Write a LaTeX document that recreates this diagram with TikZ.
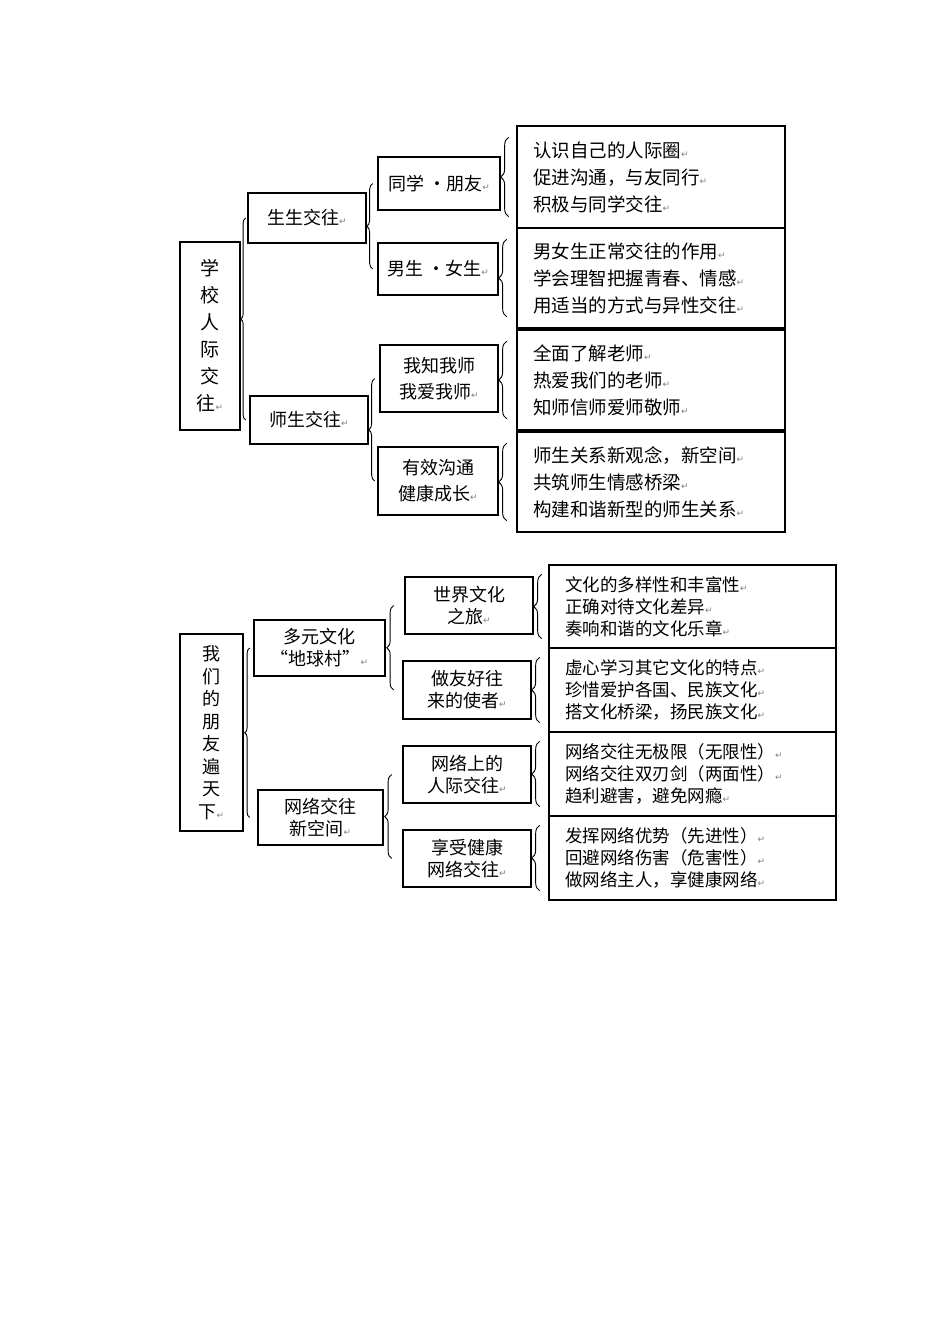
\documentclass[tikz,border=0pt]{standalone}
\usepackage{fontspec}
\setmainfont{Noto Sans CJK SC}
\newfontfamily\dejavu{DejaVu Sans}
\usetikzlibrary{calc,decorations.pathreplacing}
\newcommand\rr{{\dejavu\color{gray}\fontsize{9}{9}\selectfont ↵}}
\begin{document}
\begin{tikzpicture}[x=1pt,y=-1pt,
  bx/.style={draw,line width=1.3pt,inner sep=0pt,font=\fontsize{18}{24}\selectfont,align=center},
  lst/.style={bx,align=left,font=\fontsize{18.5}{27}\selectfont},
  lst2/.style={bx,align=left,font=\fontsize{17.5}{22}\selectfont},
  brc/.style={decorate,decoration={brace,amplitude=#1},line width=0.9pt}]
\useasboundingbox (0,0) rectangle (950,1344);
% top
\node[bx,minimum width=60pt,minimum height=188pt,font=\fontsize{19}{27}\selectfont] (root1) at (210,336) {学\\校\\人\\际\\交\\往\rr};
\node[bx,minimum width=118pt,minimum height=50pt] (a1) at (307,218) {生生交往\rr};
\node[bx,minimum width=118pt,minimum height=48pt] (a2) at (309,420) {师生交往\rr};
\node[bx,minimum width=122pt,minimum height=53pt] (b1) at (439,183.5) {同学 ·朋友\rr};
\node[bx,minimum width=120pt,minimum height=52pt] (b2) at (438,269) {男生 ·女生\rr};
\node[bx,minimum width=118pt,minimum height=67pt,font=\fontsize{18}{26}\selectfont] (b3) at (439,378.5) {我知我师\\我爱我师\rr};
\node[bx,minimum width=120pt,minimum height=68pt,font=\fontsize{18}{26}\selectfont] (b4) at (438,481) {有效沟通\\健康成长\rr};
\node[lst,minimum width=268pt,minimum height=102pt,text width=236pt] (r1) at (651,177) {认识自己的人际圈\rr\\促进沟通，与友同行\rr\\积极与同学交往\rr};
\node[lst,minimum width=268pt,minimum height=100pt,text width=236pt] (r2) at (651,278) {男女生正常交往的作用\rr\\学会理智把握青春、情感\rr\\用适当的方式与异性交往\rr};
\node[lst,minimum width=268pt,minimum height=100pt,text width=236pt] (r3) at (651,380) {全面了解老师\rr\\热爱我们的老师\rr\\知师信师爱师敬师\rr};
\node[lst,minimum width=268pt,minimum height=100pt,text width=236pt] (r4) at (651,482) {师生关系新观念，新空间\rr\\共筑师生情感桥梁\rr\\构建和谐新型的师生关系\rr};
\draw[brc=5pt] ($(a2.west -| root1.east)+(5,0)$) -- ($(a1.west -| root1.east)+(5,0)$);
\draw[brc=6pt] ($(b2.west -| a1.east)+(6,0)$) -- ($(b1.west -| a1.east)+(6,0)$);
\draw[brc=6pt] ($(b4.west -| a2.east)+(6,0)$) -- ($(b3.west -| a2.east)+(6,0)$);
\foreach \m/\r in {b1/r1,b2/r2,b3/r3,b4/r4}{
  \draw[brc=8pt] ($(\r.south -| \m.east)+(8,-12)$) -- ($(\r.north -| \m.east)+(8,12)$);}
% bottom
\node[bx,minimum width=63pt,minimum height=197pt,font=\fontsize{18}{22.5}\selectfont] (root2) at (211.5,732.5) {我\\们\\的\\朋\\友\\遍\\天\\下\rr};
\node[bx,minimum width=131pt,minimum height=56pt,font=\fontsize{18}{22}\selectfont] (c1) at (319.5,648) {多元文化\\“地球村”\rr};
\node[bx,minimum width=125pt,minimum height=55pt,font=\fontsize{18}{22}\selectfont] (c2) at (320.5,817.5) {网络交往\\新空间\rr};
\node[bx,minimum width=128pt,minimum height=57pt,font=\fontsize{18}{22}\selectfont] (d1) at (469,605.5) {世界文化\\之旅\rr};
\node[bx,minimum width=128pt,minimum height=58pt,font=\fontsize{18}{22}\selectfont] (d2) at (467,690) {做友好往\\来的使者\rr};
\node[bx,minimum width=128pt,minimum height=57pt,font=\fontsize{18}{22}\selectfont] (d3) at (467,774.5) {网络上的\\人际交往\rr};
\node[bx,minimum width=128pt,minimum height=57pt,font=\fontsize{18}{22}\selectfont] (d4) at (467,858.5) {享受健康\\网络交往\rr};
\node[lst2,minimum width=287pt,minimum height=83pt,text width=255pt] (s1) at (692.5,606.5) {文化的多样性和丰富性\rr\\正确对待文化差异\rr\\奏响和谐的文化乐章\rr};
\node[lst2,minimum width=287pt,minimum height=84pt,text width=255pt] (s2) at (692.5,690) {虚心学习其它文化的特点\rr\\珍惜爱护各国、民族文化\rr\\搭文化桥梁，扬民族文化\rr};
\node[lst2,minimum width=287pt,minimum height=84pt,text width=255pt] (s3) at (692.5,774) {网络交往无极限（无限性）\rr\\网络交往双刃剑（两面性）\rr\\趋利避害，避免网瘾\rr};
\node[lst2,minimum width=287pt,minimum height=84pt,text width=255pt] (s4) at (692.5,858) {发挥网络优势（先进性）\rr\\回避网络伤害（危害性）\rr\\做网络主人，享健康网络\rr};
\draw[brc=5pt] ($(c2.west -| root2.east)+(6,0)$) -- ($(c1.west -| root2.east)+(6,0)$);
\draw[brc=7pt] ($(d2.west -| c1.east)+(8,0)$) -- ($(d1.west -| c1.east)+(8,0)$);
\draw[brc=7pt] ($(d4.west -| c2.east)+(8,0)$) -- ($(d3.west -| c2.east)+(8,0)$);
\foreach \m/\r in {d1/s1,d2/s2,d3/s3,d4/s4}{
  \draw[brc=8pt] ($(\r.south -| \m.east)+(8,-10)$) -- ($(\r.north -| \m.east)+(8,10)$);}
\end{tikzpicture}
\end{document}
